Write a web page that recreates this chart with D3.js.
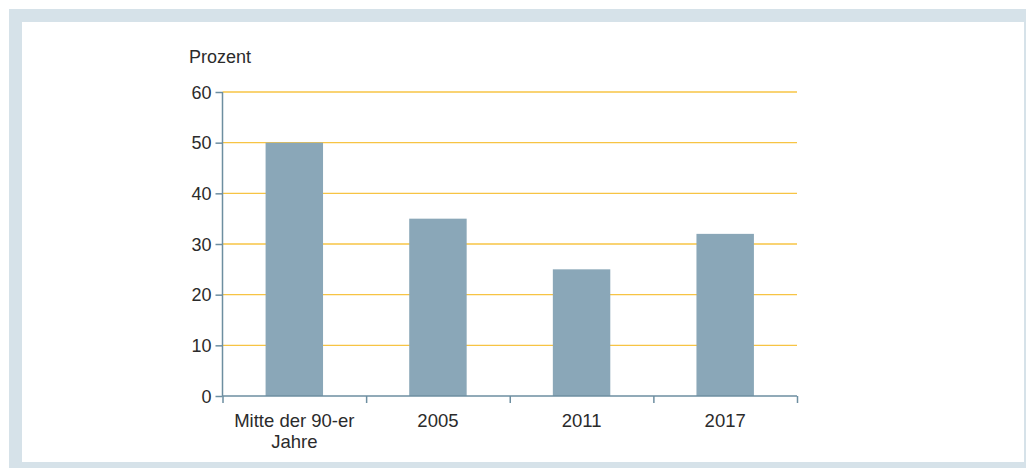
<!DOCTYPE html>
<html><head><meta charset="utf-8">
<script src="https://cdn.jsdelivr.net/npm/d3@7"></script>
<style>
html,body{margin:0;padding:0;background:#fff;}
svg{display:block;}
text{font-family:"Liberation Sans",Arial,sans-serif;fill:#2b2b2b;}
</style></head>
<body>
<script>
const categories = [["Mitte der 90-er","Jahre"],["2005"],["2011"],["2017"]];
const values = [50, 35, 25, 32];
const yTicks = [0, 10, 20, 30, 40, 50, 60];
const yLabel = "Prozent";

const W = 1026, H = 468;
const svg = d3.select("body").append("svg").attr("width", W).attr("height", H);

// frame
svg.append("rect").attr("x", 9).attr("y", 9).attr("width", W - 9).attr("height", H - 9).attr("fill", "#d6e2e9");
svg.append("rect").attr("x", 22).attr("y", 22).attr("width", 1002).attr("height", 440).attr("fill", "#ffffff");

const x0 = 222.5, x1 = 797, y0 = 396, y1 = 92;
const x = d3.scaleBand().domain(d3.range(categories.length)).range([x0, x1]).padding(0);
const y = d3.scaleLinear().domain([0, 60]).range([y0, y1]);
const axisColor = "#6d8ea0";

// grid
svg.append("g").selectAll("line").data(yTicks.filter(d => d > 0)).join("line")
  .attr("x1", x0).attr("x2", x1)
  .attr("y1", d => y(d)).attr("y2", d => y(d))
  .attr("stroke", "#f7c444").attr("stroke-width", 1.4);

// bars
const bw = x.bandwidth() * 0.4;
svg.append("g").selectAll("rect").data(values).join("rect")
  .attr("x", (d, i) => x(i) + x.bandwidth() / 2 - bw / 2)
  .attr("width", bw)
  .attr("y", d => y(d))
  .attr("height", d => y0 - y(d))
  .attr("fill", "#8aa7b8");

// y axis
const yAxis = d3.axisLeft(y).tickValues(yTicks).tickSize(7).tickPadding(4).tickFormat(d3.format("d"));
const gy = svg.append("g").attr("transform", `translate(${x0},0)`).call(yAxis);
gy.select(".domain").attr("stroke", axisColor).attr("stroke-width", 1.5).attr("d", `M0,${y1}V${y0}`);
gy.selectAll(".tick line").attr("stroke", axisColor).attr("stroke-width", 1.5);
gy.selectAll(".tick text").attr("font-size", 18).attr("font-family", "Liberation Sans, Arial, sans-serif").attr("fill", "#2b2b2b").attr("dy", "0.34em");

// x axis
const xLin = d3.scaleLinear().domain([0, categories.length]).range([x0, x1]);
const xAxis = d3.axisBottom(xLin).tickValues(d3.range(categories.length + 1)).tickSize(7).tickFormat("");
const gx = svg.append("g").attr("transform", `translate(0,${y0})`).call(xAxis);
gx.select(".domain").attr("stroke", axisColor).attr("stroke-width", 1.5).attr("d", `M${x0},0H${x1}`);
gx.selectAll(".tick line").attr("stroke", axisColor).attr("stroke-width", 1.5);

// x labels
const lab = svg.append("g").selectAll("text").data(categories).join("text")
  .attr("x", (d, i) => x(i) + x.bandwidth() / 2)
  .attr("y", 427)
  .attr("text-anchor", "middle")
  .attr("font-size", 18.5);
lab.each(function(d) {
  const t = d3.select(this);
  d.forEach((line, j) => {
    t.append("tspan").attr("x", t.attr("x")).attr("dy", j === 0 ? 0 : 21).text(line);
  });
});

svg.append("text").attr("x", 189).attr("y", 63).attr("font-size", 18).text(yLabel);
</script>
</body></html>
